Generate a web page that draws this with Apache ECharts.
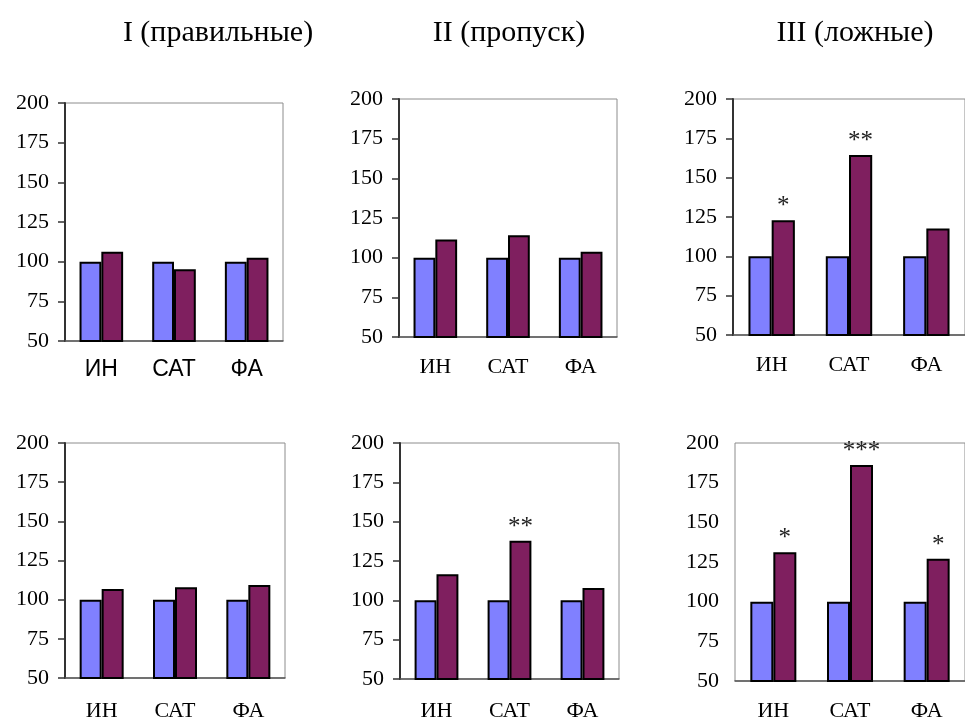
<!DOCTYPE html>
<html>
<head>
<meta charset="utf-8">
<script src="https://cdn.jsdelivr.net/npm/echarts@6/dist/echarts.min.js"></script>
<style>
    html, body { margin: 0; padding: 0; background: #fff; }
    #main { width: 965px; height: 722px; }
</style>
</head>
<body>
<div id="main"></div>
<script>
    // column headings
    var columnTitles = ['I (правильные)', 'II (пропуск)', 'III (ложные)'];
    var categories = ['ИН', 'САТ', 'ФА'];
    var yTicks = [50, 75, 100, 125, 150, 175, 200];

    // контроль = 100%
    var controlValues = [100, 100, 100];
    // верхний ряд
    var topI = [106.3, 95.2, 102.5];
    var topII = [111.4, 114.1, 103.8];
    var topIII = [122.9, 164.4, 117.7];
    // нижний ряд
    var bottomI = [106.8, 107.9, 109.4];
    var bottomII = [116.6, 137.8, 107.8];
    var bottomIII = [131.2, 186.2, 127.0];
    // значимость
    var starsTopIII = ['*', '**', ''];
    var starsBottomII = ['', '**', ''];
    var starsBottomIII = ['*', '***', '*'];
    var noStars = ['', '', ''];

    var panels = [
        {values: topI, stars: noStars, grid: {left: 65, top: 103, width: 218, height: 238}, sans: true, margin: 17, yLine: true},
        {values: topII, stars: noStars, grid: {left: 399, top: 99, width: 218, height: 238}, margin: 19, yLine: true},
        {values: topIII, stars: starsTopIII, grid: {left: 733, top: 99, width: 236, height: 236}, margin: 19, yLine: true},
        {values: bottomI, stars: noStars, grid: {left: 65, top: 443, width: 220, height: 235}, margin: 22, yLine: true},
        {values: bottomII, stars: starsBottomII, grid: {left: 400, top: 443, width: 219, height: 239}, margin: 21, yLine: true},
        {values: bottomIII, stars: starsBottomIII, grid: {left: 735, top: 443, width: 242, height: 240}, margin: 19, yLine: false}
    ];
    var titleX = [218, 509, 855];

    var SERIF = '"Liberation Serif", "Times New Roman", serif';
    var SANS = '"Liberation Sans", Arial, sans-serif';

    var chart = echarts.init(document.getElementById('main'));
    var option = {
        backgroundColor: '#fff',
        animation: false,
        graphic: [],
        grid: [],
        xAxis: [],
        yAxis: [],
        series: []
    };

    columnTitles.forEach(function (t, i) {
        option.graphic.push({
            type: 'text',
            x: titleX[i],
            y: 33,
            style: {
                text: t, align: 'center', verticalAlign: 'middle',
                fontFamily: SERIF, fontSize: 30, fill: '#000'
            }
        });
    });

    panels.forEach(function (p, i) {
        option.grid.push({
            left: p.grid.left, top: p.grid.top, width: p.grid.width, height: p.grid.height,
            show: true, borderColor: '#8c8c8c', borderWidth: 1, backgroundColor: 'transparent'
        });
        option.xAxis.push({
            type: 'category',
            gridIndex: i,
            data: categories,
            axisTick: {show: false},
            axisLine: {show: true, lineStyle: {color: '#555', width: 1.5}},
            axisLabel: {
                margin: p.margin, color: '#000',
                fontSize: p.sans ? 23 : 22,
                fontFamily: p.sans ? SANS : SERIF
            }
        });
        option.yAxis.push({
            type: 'value',
            gridIndex: i,
            min: yTicks[0],
            max: yTicks[yTicks.length - 1],
            interval: 25,
            splitLine: {show: false},
            axisLine: {show: p.yLine, lineStyle: {color: '#333', width: 2}},
            axisTick: {show: p.yLine, length: 7, lineStyle: {color: '#333', width: 1.5}},
            axisLabel: {margin: 16, color: '#000', fontSize: 22, fontFamily: SERIF}
        });
        option.series.push({
            type: 'bar',
            xAxisIndex: i,
            yAxisIndex: i,
            data: controlValues,
            barGap: '0%',
            barCategoryGap: '40%',
            itemStyle: {color: '#8080ff', borderColor: '#000', borderWidth: 2}
        });
        option.series.push({
            type: 'bar',
            xAxisIndex: i,
            yAxisIndex: i,
            data: p.values,
            barGap: '0%',
            barCategoryGap: '40%',
            itemStyle: {color: '#7f1f5f', borderColor: '#000', borderWidth: 2},
            label: {
                show: true,
                position: 'top',
                distance: 1,
                color: '#222',
                fontSize: 25,
                fontFamily: SERIF,
                formatter: function (d) { return p.stars[d.dataIndex]; }
            }
        });
    });

    chart.setOption(option);
</script>
</body>
</html>
